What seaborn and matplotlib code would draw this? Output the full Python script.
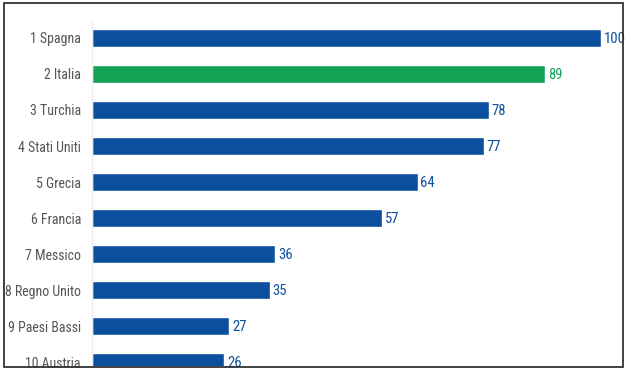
import pandas as pd
import matplotlib.pyplot as plt
import seaborn as sns
from matplotlib.patches import Rectangle

countries = ["1 Spagna", "2 Italia", "3 Turchia", "4 Stati Uniti", "5 Grecia",
             "6 Francia", "7 Messico", "8 Regno Unito", "9 Paesi Bassi", "10 Austria"]
scores = [100, 89, 78, 77, 64, 57, 36, 35, 27, 26]
highlight = "2 Italia"

blue = "#0b4f9e"
green = "#12a356"
colors = [green if c == highlight else blue for c in countries]

df = pd.DataFrame({"country": countries, "score": scores})

sns.set_style("white")
plt.rcParams['font.family'] = ['Roboto Condensed', 'Roboto', 'DejaVu Sans']

fig = plt.figure(figsize=(6.31, 3.74), dpi=100)
ax = fig.add_axes([92 / 631, 1 - 366 / 374, 528 / 631, 344 / 374])

sns.barplot(data=df, y="country", x="score", hue="country",
            palette=dict(zip(countries, colors)), legend=False,
            width=0.5, saturation=1, ax=ax, orient="h")

for i, (v, col) in enumerate(zip(scores, colors)):
    ax.text(v + 0.5, i + 0.04, str(v), va="center", ha="left", color=col, fontsize=10.5)

ax.set_xlim(0, 103.7)
ax.set_ylim(9.11, -0.444)
ax.set_xlabel("")
ax.set_ylabel("")
ax.set_xticks([])
ax.tick_params(axis="y", length=0, labelsize=10, labelcolor="#555555", pad=8)
for s in ["top", "right", "bottom"]:
    ax.spines[s].set_visible(False)
ax.spines["left"].set_color("#eeeeee")
ax.spines["left"].set_linewidth(1)

# frame around the picture
fig.patches.append(Rectangle((4 / 631, 1 - 367 / 374), 619 / 631, 364 / 374,
                             transform=fig.transFigure, fill=False,
                             edgecolor="#333333", linewidth=1.3))

fig.savefig("out.png", dpi=100)
